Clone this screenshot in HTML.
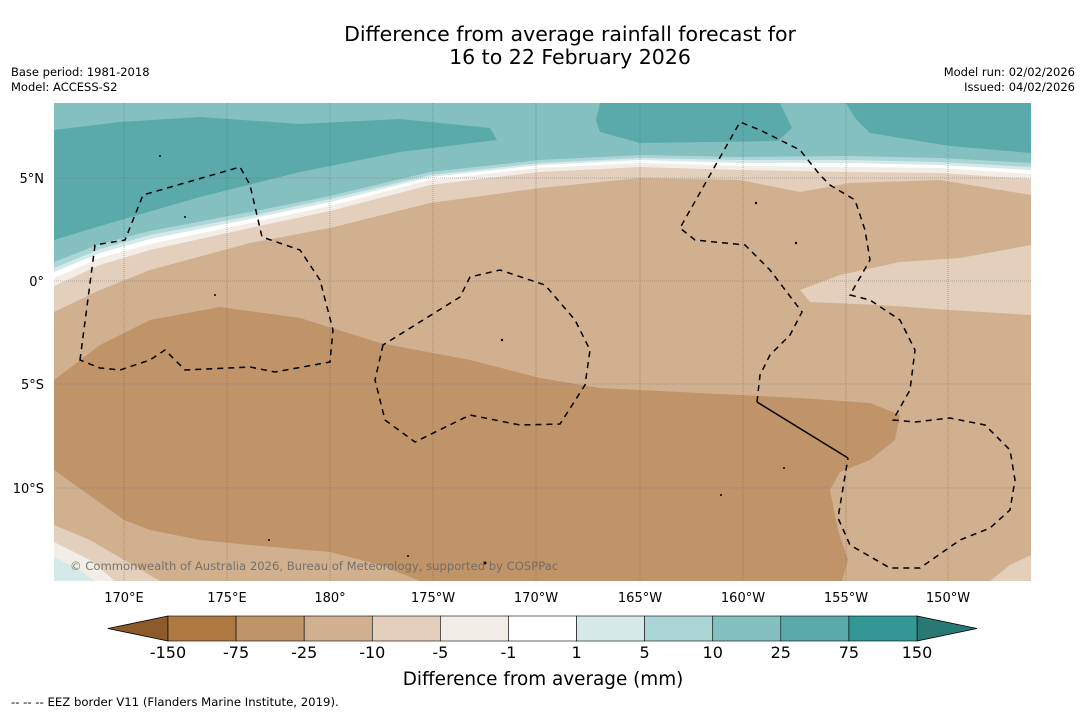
<!DOCTYPE html>
<html><head><meta charset="utf-8">
<style>
body{margin:0;background:#fff;width:1085px;height:713px;overflow:hidden;font-family:"Liberation Sans","DejaVu Sans",sans-serif;}
svg{position:absolute;left:0;top:0}
</style></head>
<body>
<svg width="1085" height="713" viewBox="0 0 1085 713" xmlns="http://www.w3.org/2000/svg" font-family="'DejaVu Sans','Liberation Sans',sans-serif">
<text x="570" y="41" font-size="20.5" text-anchor="middle">Difference from average rainfall forecast for</text>
<text x="570" y="64" font-size="20.5" text-anchor="middle">16 to 22 February 2026</text>
<text x="11" y="76" font-size="11.5">Base period: 1981-2018</text>
<text x="11" y="91" font-size="11.5">Model: ACCESS-S2</text>
<text x="1075" y="76" font-size="11.5" text-anchor="end">Model run: 02/02/2026</text>
<text x="1075" y="91" font-size="11.5" text-anchor="end">Issued: 04/02/2026</text>

<defs><clipPath id="mc"><rect x="54" y="103" width="977" height="478"/></clipPath></defs>
<g clip-path="url(#mc)">
<rect x="54" y="103" width="977" height="478" fill="#84c0bf"/>
<path fill="#5aaaab" d="M54,130 L120,122 200,117 300,124 400,119 490,128 497,140 400,152 300,172 200,197 100,226 54,240 Z"/>
<path fill="#5aaaab" d="M600,103 L780,103 792,128 778,141 640,143 600,132 596,120 Z"/>
<path fill="#5aaaab" d="M846,103 L1031,103 1031,153 950,146 870,133 855,118 Z"/>
<path fill="#abd6d5" d="M54,262 L100,244 150,231 250,212 330,196 430,172 540,160 640,155 740,157 850,156 940,158 1031,163 L1031,581 54,581 Z"/>
<path fill="#d4e9e8" d="M54,268 L100,249 150,235 250,216 330,199 430,175 540,163 640,158 740,160 850,160 940,162 1031,167 L1031,581 54,581 Z"/>
<path fill="#ffffff" d="M54,272 L100,253 150,239 250,219 330,202 430,177 540,165 640,160 740,163 850,163 940,165 1031,170 L1031,581 54,581 Z"/>
<path fill="#f2ede7" d="M54,278 L100,258 150,244 250,223 330,206 430,180 540,168 640,163 740,166 850,167 940,168 1031,174 L1031,581 54,581 Z"/>
<path fill="#e3cfbc" d="M54,286 L100,265 150,250 250,228 330,211 430,185 540,172 640,167 740,170 850,172 940,173 1031,179 L1031,581 54,581 Z"/>
<path fill="#d1b08f" d="M54,312 L100,290 150,270 250,243 330,228 430,203 540,188 640,178 740,180 800,192 850,183 940,180 1031,195 L1031,581 54,581 Z"/>
<path fill="#e3cfbc" d="M1031,245 L960,258 900,262 840,275 800,290 810,302 880,305 950,310 1031,315 Z"/>
<path fill="#bf9468" d="M54,380 L100,345 150,320 220,307 300,318 380,343 470,360 540,378 600,388 700,393 800,398 870,403 900,415 895,440 870,460 840,472 830,490 838,530 848,560 842,581 420,581 380,565 330,552 250,545 200,540 150,530 124,520 54,470 Z"/>
<path fill="#e3cfbc" d="M54,525 L90,540 124,560 160,581 54,581 Z"/>
<path fill="#f2ede7" d="M54,542 L90,560 115,581 54,581 Z"/>
<path fill="#d4e9e8" d="M54,557 L80,570 95,581 54,581 Z"/>
<path fill="#e3cfbc" d="M990,581 L1010,565 1031,555 1031,581 Z"/>
<g stroke="#666" stroke-width="0.6" stroke-dasharray="1,1" stroke-opacity="0.8">
<line x1="124" y1="103" x2="124" y2="581"/><line x1="227" y1="103" x2="227" y2="581"/><line x1="330" y1="103" x2="330" y2="581"/><line x1="433" y1="103" x2="433" y2="581"/><line x1="536" y1="103" x2="536" y2="581"/><line x1="640" y1="103" x2="640" y2="581"/><line x1="743" y1="103" x2="743" y2="581"/><line x1="846" y1="103" x2="846" y2="581"/><line x1="948" y1="103" x2="948" y2="581"/>
<line x1="54" y1="178" x2="1031" y2="178"/><line x1="54" y1="281" x2="1031" y2="281"/><line x1="54" y1="384" x2="1031" y2="384"/><line x1="54" y1="488" x2="1031" y2="488"/>
</g>
<g fill="none" stroke="#000" stroke-width="1.5" stroke-dasharray="6,5">
<path d="M80,360 L95,245 125,240 143,195 240,167 250,185 262,237 300,250 320,280 333,330 330,362 275,372 250,367 185,370 165,350 150,360 120,370 100,368 Z"/>
<path d="M383,345 L375,380 385,420 415,442 470,415 520,425 560,424 585,385 590,350 575,320 545,285 500,270 470,277 460,297 Z"/>
<path d="M757,402 L760,375 770,355 790,335 802,312 770,270 745,245 695,240 680,228 740,122 760,130 800,150 820,175 830,185 855,200 865,230 870,260 850,295 870,300 900,320 915,350 910,390 893,420 915,422 950,418 985,425 1010,450 1015,480 1010,510 990,528 960,540 920,568 890,568 850,545 838,518 848,458"/>
</g>
<path d="M757,402 L848,458" stroke="#000" stroke-width="1.5" fill="none"/>
<g fill="#000">
<circle cx="160" cy="156" r="1"/><circle cx="185" cy="217" r="1"/><circle cx="215" cy="295" r="1"/><circle cx="502" cy="340" r="1.2"/><circle cx="756" cy="203" r="1.2"/><circle cx="796" cy="243" r="1.2"/><circle cx="784" cy="468" r="1"/><circle cx="721" cy="495" r="1"/><circle cx="485" cy="563" r="1.5"/><circle cx="269" cy="540" r="1"/><circle cx="408" cy="556" r="1"/>
</g>
<text x="70" y="570" font-size="11.6" fill="#666" fill-opacity="0.85">© Commonwealth of Australia 2026, Bureau of Meteorology, supported by COSPPac</text>
</g>

<g font-size="13" text-anchor="end">
<text x="44" y="183">5°N</text><text x="44" y="286">0°</text><text x="44" y="389">5°S</text><text x="44" y="493">10°S</text>
</g>
<g font-size="13" text-anchor="middle">
<text x="124" y="602">170°E</text><text x="227" y="602">175°E</text><text x="330" y="602">180°</text><text x="433" y="602">175°W</text><text x="536" y="602">170°W</text><text x="640" y="602">165°W</text><text x="743" y="602">160°W</text><text x="846" y="602">155°W</text><text x="948" y="602">150°W</text>
</g>

<g id="cbar"></g>
<text x="543" y="685" font-size="18.4" text-anchor="middle">Difference from average (mm)</text>
<text x="11" y="706" font-size="11.7">--  --  -- EEZ border V11 (Flanders Marine Institute, 2019).</text>
</svg>
<script>
const levels=["-150","-75","-25","-10","-5","-1","1","5","10","25","75","150"];
const colors=["#ad7941","#bf9468","#d1b08f","#e3cfbc","#f2ede7","#ffffff","#d4e9e8","#abd6d5","#84c0bf","#5aaaab","#339795"];
const extColors=["#8d5a29","#2a7876"];
const ns="http://www.w3.org/2000/svg";
const g=document.getElementById('cbar');
const x0=168,x1=917,y0=616,h=25,w=(x1-x0)/colors.length;
function mk(t,a){const e=document.createElementNS(ns,t);for(const k in a)e.setAttribute(k,a[k]);g.appendChild(e);return e;}
let lt=mk('polygon',{points:`${x0},${y0} ${x0},${y0+h} 108,${y0+h/2}`,fill:extColors[0],stroke:'#000','stroke-width':0.8});


let rt=mk('polygon',{points:`${x1},${y0} ${x1},${y0+h} 977,${y0+h/2}`,fill:extColors[1],stroke:'#000','stroke-width':0.8});


colors.forEach((c,i)=>{
 const r=mk('rect',{x:x0+i*w,y:y0,width:w,height:h,fill:c,stroke:'#000','stroke-width':0.6});
 
 
});
levels.forEach((l,i)=>{
 const t=mk('text',{x:x0+i*w,y:658,'font-size':16,'text-anchor':'middle'});
 t.textContent=l;
 
 
});
</script>
</body></html>
